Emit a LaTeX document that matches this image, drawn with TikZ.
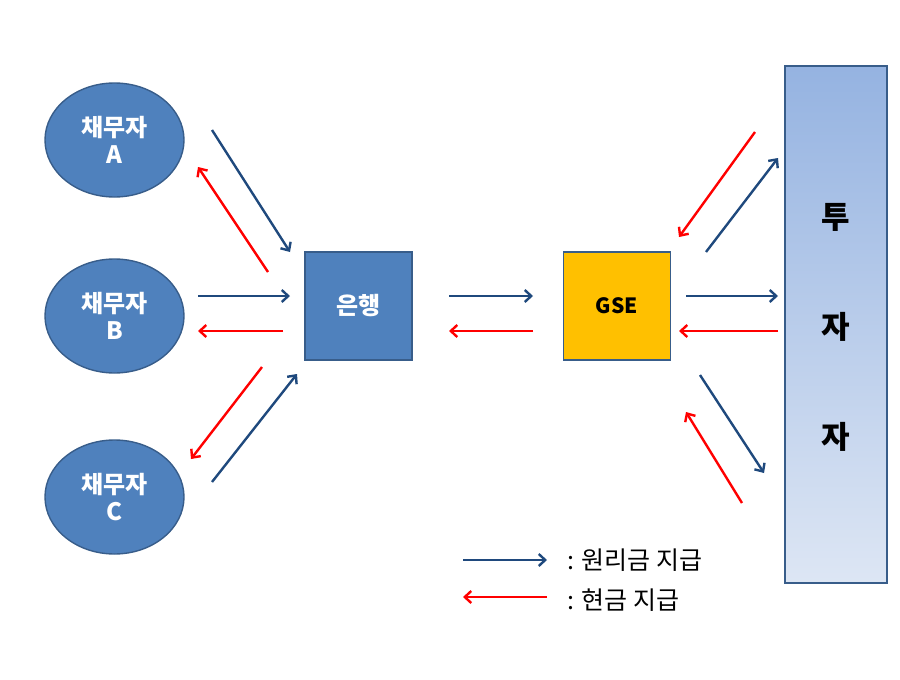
\documentclass[tikz,border=0pt]{standalone}
\usepackage{fontspec}
\setmainfont{Noto Sans CJK KR}
\usepackage{tikz}
\usetikzlibrary{shapes.geometric, positioning, arrows.meta}
\usepackage{xcolor}
\definecolor{boxblue}{HTML}{4F81BD}
\definecolor{edgeblue}{HTML}{385D8A}
\definecolor{payblue}{HTML}{1F497D}
\definecolor{gseyellow}{HTML}{FFC000}
\definecolor{invtop}{HTML}{95B3E1}
\definecolor{invbot}{HTML}{DDE6F4}

\begin{document}
\begin{tikzpicture}[x=1pt, y=-1pt, >={Straight Barb[length=6.5pt, width=12pt]}]
        \tikzstyle{debtor} = [ellipse, draw=edgeblue, fill=boxblue, line width=1.4pt, minimum width=139pt, minimum height=114pt, inner sep=0pt, text=white, font=\bfseries\fontsize{24}{28}\selectfont, align=center]
        \tikzstyle{firm} = [rectangle, draw=edgeblue, line width=1.4pt, minimum width=107pt, minimum height=108pt, inner sep=0pt]
        \tikzstyle{principal} = [->, draw=payblue, line width=2.4pt]
        \tikzstyle{cash} = [->, draw=red, line width=2.4pt]
        \tikzstyle{legendtext} = [anchor=west, inner sep=0pt, font=\fontsize{25}{28}\selectfont]

        \useasboundingbox (0,0) rectangle (900,680);

        \node[debtor] (debtorA) at (114.5,140) {채무자\\[-1pt]A};
        \node[debtor] (debtorB) at (114.5,316) {채무자\\[-1pt]B};
        \node[debtor] (debtorC) at (114.5,497) {채무자\\[-1pt]C};
        \node[firm, fill=boxblue, text=white, font=\bfseries\fontsize{24}{28}\selectfont] (bank) at (358.5,306) {은행};
        \node[firm, fill=gseyellow, text=black, font=\bfseries\fontsize{21}{25}\selectfont] (gse) at (617,306) {GSE};
        \node[rectangle, draw=edgeblue, line width=1.4pt, top color=invtop, bottom color=invbot, minimum width=102pt, minimum height=517pt, inner sep=0pt] (investor) at (836,324.5) {};
        \node[font=\bfseries\fontsize{31}{34}\selectfont] (inv1) at (836,217) {투};
        \node[font=\bfseries\fontsize{31}{34}\selectfont] (inv2) at (836,327) {자};
        \node[font=\bfseries\fontsize{31}{34}\selectfont] (inv3) at (836,437) {자};

        % debtors <-> bank
        \coordinate (aOut) at (212,130);  \coordinate (aIn) at (290,252);
        \coordinate (aBack) at (268,272); \coordinate (aHome) at (198,167);
        \coordinate (bOut) at (198,296);  \coordinate (bIn) at (290,296);
        \coordinate (bBack) at (283,331); \coordinate (bHome) at (198,331);
        \coordinate (cBack) at (262,367); \coordinate (cHome) at (191,459);
        \coordinate (cOut) at (212,482);  \coordinate (cIn) at (297,374);
        \draw[principal] (aOut) -- (aIn);
        \draw[cash] (aBack) -- (aHome);
        \draw[principal] (bOut) -- (bIn);
        \draw[cash] (bBack) -- (bHome);
        \draw[cash] (cBack) -- (cHome);
        \draw[principal] (cOut) -- (cIn);

        % bank <-> GSE
        \coordinate (kOut) at (449,296); \coordinate (kIn) at (533,296);
        \coordinate (kBack) at (533,331); \coordinate (kHome) at (449,331);
        \draw[principal] (kOut) -- (kIn);
        \draw[cash] (kBack) -- (kHome);

        % GSE <-> investors
        \coordinate (tBack) at (755,132); \coordinate (tHome) at (679,237);
        \coordinate (tOut) at (706,252);  \coordinate (tIn) at (778,158);
        \coordinate (mOut) at (686,296);  \coordinate (mIn) at (778,296);
        \coordinate (mBack) at (778,331); \coordinate (mHome) at (679,331);
        \coordinate (uOut) at (700,375);  \coordinate (uIn) at (764,473);
        \coordinate (uBack) at (742,503); \coordinate (uHome) at (686,412);
        \draw[cash] (tBack) -- (tHome);
        \draw[principal] (tOut) -- (tIn);
        \draw[principal] (mOut) -- (mIn);
        \draw[cash] (mBack) -- (mHome);
        \draw[principal] (uOut) -- (uIn);
        \draw[cash] (uBack) -- (uHome);

        % legend
        \coordinate (lgBlueS) at (463,560); \coordinate (lgBlueE) at (547,560);
        \coordinate (lgRedS) at (547,597);  \coordinate (lgRedE) at (463,597);
        \draw[principal] (lgBlueS) -- (lgBlueE);
        \draw[cash] (lgRedS) -- (lgRedE);
        \node[legendtext, right=20pt of lgBlueE] (lgBlue) {: 원리금 지급};
        \node[legendtext, right=20pt of lgRedS, yshift=-3pt] (lgRed) {: 현금 지급};
    \end{tikzpicture}
\end{document}
